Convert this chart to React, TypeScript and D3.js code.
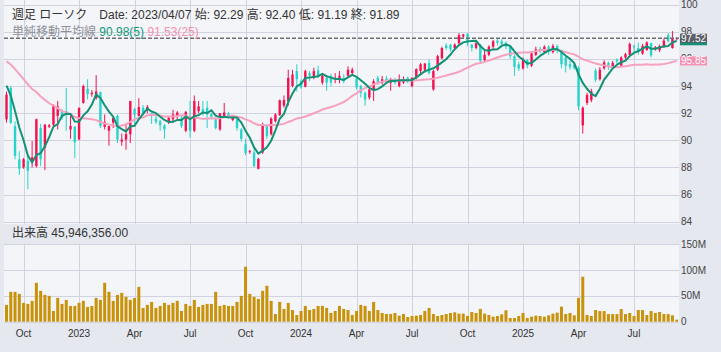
import { useEffect, useRef } from 'react';
import * as d3 from 'd3';

// weekly bars, each dated by its Friday
const firstWeek = new Date(2022, 8, 9);
const afterLastWeek = new Date(2025, 8, 13);

const opens = [
  91.54, 93.85, 91.05, 88.6, 88.0, 88.5, 88.5, 88.1, 90.9, 89.45,
  91.0, 91.15, 91.8, 92.15, 92.15, 90.8, 91.0, 90.07, 92.75, 93.8,
  93.4, 93.1, 93.55, 91.0, 90.7, 91.3, 91.8, 89.9, 90.05, 90.45,
  92.29, 91.8, 92.4, 92.3, 91.95, 91.6, 91.4, 91.1, 91.4, 91.55,
  91.8, 91.65, 90.7, 91.65, 90.7, 92.15, 92.3, 92.4, 91.95, 91.65,
  90.8, 91.8, 92.0, 91.5, 91.55, 90.8, 89.7, 89.15, 89.1, 87.9,
  89.1, 91.1, 90.45, 91.4, 91.85, 92.55, 92.9, 94.0, 95.1, 94.35,
  93.95, 94.95, 94.6, 95.15, 94.25, 94.6, 94.75, 94.55, 94.5, 94.6,
  94.75, 94.95, 94.55, 94.0, 93.5, 93.15, 93.75, 94.6, 94.25, 94.55,
  94.25, 94.5, 94.0, 94.25, 94.6, 94.0, 94.6, 95.1, 95.2, 95.7,
  93.75, 95.2, 96.05, 97.0, 97.05, 96.8, 97.15, 97.65, 97.85, 97.05,
  96.8, 97.0, 95.9, 96.3, 96.9, 97.35, 97.3, 97.15, 96.9, 96.2,
  95.6, 95.3, 95.9, 95.5, 96.3, 96.75, 96.5, 96.9, 96.5, 96.95,
  96.6, 96.1, 95.6, 95.55, 95.35, 91.1, 92.75, 92.95, 95.15, 94.5,
  95.3, 95.7, 95.35, 95.95, 95.5, 96.1, 96.3, 96.95, 96.8, 96.4,
  96.65, 97.15, 96.7, 96.65, 96.9, 97.75, 96.8, 97.45,
];

const highs = [
  93.6, 94.0, 91.4, 89.2, 88.7, 88.85, 89.95, 91.6, 91.2, 91.2,
  91.2, 92.65, 92.9, 92.3, 93.85, 91.8, 91.05, 92.4, 94.1, 94.5,
  93.7, 94.8, 93.6, 91.9, 91.05, 91.8, 91.9, 90.5, 91.15, 92.9,
  92.4, 93.1, 92.6, 92.6, 92.0, 91.8, 91.5, 91.2, 91.8, 92.25,
  92.15, 91.8, 92.15, 92.9, 93.3, 92.9, 92.9, 92.9, 92.0, 91.7,
  92.0, 92.75, 92.1, 91.8, 91.6, 90.9, 90.1, 89.3, 89.35, 88.7,
  91.3, 91.2, 91.7, 92.0, 93.0, 93.3, 95.2, 95.2, 95.6, 94.5,
  95.2, 95.1, 95.35, 95.5, 94.85, 94.7, 94.9, 94.95, 95.1, 94.85,
  95.45, 95.35, 94.6, 94.1, 93.6, 93.85, 94.5, 94.75, 94.75, 94.75,
  94.6, 94.6, 94.85, 94.7, 94.7, 94.65, 95.3, 95.7, 95.7, 95.95,
  95.2, 96.3, 96.9, 97.15, 97.1, 97.15, 97.9, 97.85, 97.9, 97.1,
  97.3, 97.1, 96.6, 97.0, 97.4, 97.5, 97.45, 97.3, 97.0, 96.3,
  95.8, 96.1, 96.0, 96.5, 96.9, 96.9, 97.0, 97.0, 97.1, 97.05,
  96.7, 96.2, 95.9, 95.7, 95.45, 92.5, 93.5, 93.8, 95.3, 95.4,
  95.9, 95.8, 95.85, 96.05, 96.2, 96.45, 97.2, 97.05, 97.2, 97.1,
  97.3, 97.2, 96.95, 97.05, 97.5, 97.9, 98.05, 97.6,
];

const lows = [
  91.3, 91.2, 88.6, 87.45, 87.9, 86.4, 88.0, 88.0, 88.1, 87.8,
  90.9, 90.9, 90.8, 91.5, 90.7, 90.1, 88.7, 90.0, 92.7, 93.0,
  93.2, 93.0, 90.9, 90.8, 89.6, 90.9, 89.8, 89.6, 89.3, 89.8,
  91.19, 91.75, 91.85, 92.0, 91.2, 91.2, 90.7, 90.1, 91.2, 91.3,
  91.55, 90.9, 90.6, 90.2, 90.6, 92.0, 91.8, 90.9, 91.55, 90.8,
  90.7, 91.7, 91.6, 91.4, 90.7, 89.9, 88.9, 89.0, 88.0, 87.85,
  89.0, 90.1, 90.35, 91.3, 91.8, 92.4, 92.55, 93.9, 93.6, 93.8,
  93.9, 94.35, 94.5, 94.6, 94.1, 93.65, 94.0, 94.2, 94.2, 94.2,
  94.7, 94.8, 93.75, 93.15, 92.55, 93.0, 92.9, 94.1, 94.1, 94.2,
  93.65, 94.1, 93.9, 94.15, 94.2, 93.9, 94.5, 94.9, 95.0, 94.85,
  93.65, 95.1, 95.95, 96.65, 96.55, 96.7, 97.05, 97.55, 96.95, 96.55,
  96.7, 95.65, 95.8, 96.2, 96.7, 97.0, 96.9, 96.7, 96.0, 94.75,
  95.1, 95.2, 95.3, 95.4, 96.2, 96.4, 96.4, 96.3, 96.4, 96.4,
  95.3, 95.0, 95.2, 95.2, 92.2, 90.5, 92.6, 92.8, 94.3, 94.4,
  95.2, 95.2, 95.3, 95.5, 95.4, 96.0, 96.2, 96.5, 96.3, 96.3,
  96.6, 96.1, 96.6, 96.5, 96.8, 97.2, 96.75, 97.4,
];

const closes = [
  93.37, 91.3, 88.85, 87.9, 88.6, 87.75, 88.75, 91.55, 88.6, 91.15,
  91.1, 92.6, 92.5, 91.65, 91.9, 91.05, 89.85, 92.4, 94.0, 93.4,
  93.5, 93.6, 91.05, 91.35, 91.05, 91.65, 90.05, 90.05, 90.45, 92.9,
  91.89, 92.45, 92.0, 92.45, 91.8, 91.35, 91.1, 90.8, 91.65, 91.9,
  92.05, 91.05, 92.1, 90.7, 92.9, 92.5, 92.05, 91.9, 91.7, 90.9,
  92.0, 92.05, 91.8, 91.65, 90.9, 90.1, 89.07, 89.2, 88.1, 88.63,
  91.2, 90.3, 91.6, 91.9, 92.95, 92.97, 94.6, 94.85, 94.5, 93.9,
  95.1, 94.75, 95.1, 94.75, 94.75, 94.25, 94.25, 94.6, 94.75, 94.35,
  95.2, 95.2, 93.9, 93.5, 93.0, 93.75, 94.35, 94.25, 94.5, 94.35,
  94.5, 94.25, 94.5, 94.5, 94.35, 94.6, 95.25, 95.6, 95.65, 94.95,
  95.1, 96.2, 96.8, 96.8, 96.7, 97.05, 97.75, 97.8, 97.15, 96.8,
  97.15, 95.85, 96.3, 96.9, 97.3, 97.2, 97.1, 96.9, 96.2, 95.4,
  95.3, 95.9, 95.5, 96.4, 96.7, 96.6, 96.9, 96.5, 96.95, 96.6,
  95.6, 95.5, 95.4, 95.33, 92.5, 92.4, 93.35, 93.6, 94.45, 95.2,
  95.75, 95.4, 95.7, 95.8, 96.1, 96.35, 97.1, 96.85, 96.5, 96.95,
  97.2, 96.25, 96.85, 96.95, 97.35, 97.3, 97.55, 97.52,
];

// weekly volume, millions of shares
const volumes = [
  32.5, 57.8, 57.8, 53.9, 36.4, 34.4, 40.3, 75.3, 59.7, 51.9,
  50, 20.8, 46.1, 34.4, 42.2, 30.5, 30.5, 36.4, 40.3, 28.6,
  30.5, 46.1, 42.2, 75.3, 57.8, 40.3, 51.9, 55.8, 48.1, 42.2,
  45.9, 67.5, 26.6, 32.5, 38.3, 26.6, 30.5, 36.4, 32.5, 36.4,
  40.3, 20.8, 34.4, 30.5, 42.2, 28.6, 32.5, 34.4, 34.4, 57.8,
  30.5, 32.5, 30.5, 30.5, 38.3, 50, 106.5, 53.9, 48.1, 44.2,
  59.7, 69.5, 40.3, 14.9, 38.3, 24.7, 36.4, 22.7, 13, 20.8,
  30.5, 22.7, 24.7, 30.5, 30.5, 26.6, 16.9, 20.8, 30.5, 24.7,
  22.7, 13, 20.8, 32.5, 30.5, 20.8, 38.3, 22.7, 16.9, 14.9,
  14.9, 16.9, 11.7, 14.9, 9.1, 11, 11.7, 13, 20.8, 26.6,
  14.9, 11, 13, 14.9, 16.9, 18.2, 15.6, 15.6, 11, 18.8,
  16.9, 24.7, 15.6, 13, 9.7, 11, 14.3, 22.1, 7.1, 7.1,
  11, 16.9, 7.1, 9.7, 11.7, 11, 9.7, 12.3, 15.6, 17.5,
  29.2, 14.9, 16.9, 12.3, 46.1, 87, 13, 11, 22.7, 20.6,
  20.6, 14.8, 14.8, 14.8, 24.5, 14.8, 16.8, 11, 22.6, 22.6,
  12.9, 20.6, 16.8, 18.7, 14.8, 14.8, 12.3, 3.9,
];

// closes before the first visible week (only feed the averages' start)
const earlierCloses = [
  97.0, 97.4, 97.3, 97.6, 97.2, 97.5, 97.1, 96.9, 97.3, 97.4, 97.0, 97.1,
  97.2, 94.2, 94.6, 94.8, 94.5, 94.3, 94.4, 94.4, 95.0, 94.5, 94.0, 93.3,
];

const priceTicks = [84, 86, 88, 90, 92, 94, 96, 98, 100];
const volumeTicks = [0, 50, 100, 150];
const quarterWeeks = [
  '2022/10/07', '2023/01/06', '2023/04/07', '2023/07/07', '2023/10/06', '2024/01/05',
  '2024/04/05', '2024/07/05', '2024/10/04', '2025/01/03', '2025/04/04', '2025/07/04',
];
const quarterLabels = ['Oct', '2023', 'Apr', 'Jul', 'Oct', '2024', 'Apr', 'Jul', 'Oct', '2025', 'Apr', 'Jul'];

const FONT = "'Liberation Sans', Arial, 'Noto Sans CJK JP', sans-serif";

export default function App() {
  const svgRef = useRef<SVGSVGElement>(null);

  useEffect(() => {
    if (!svgRef.current) return;
    const svg = d3.select(svgRef.current);
    svg.selectAll('*').remove();

    const fmtDay = d3.timeFormat('%Y/%m/%d');
    const weeks = d3.timeFriday.range(firstWeek, afterLastWeek).map(fmtDay);
    const bars = weeks.map((w, i) => ({
      week: w, open: opens[i], high: highs[i], low: lows[i], close: closes[i], volume: volumes[i],
    }));

    const allCloses = earlierCloses.concat(closes);
    const offset = earlierCloses.length;
    const movingAvg = (period: number) =>
      closes.map((_, i) => d3.mean(allCloses.slice(i + offset - period + 1, i + offset + 1)) as number);
    const ma5 = movingAvg(5);
    const ma25 = movingAvg(25);

    const plotLeft = 4;
    const plotRight = 679;
    const priceTop = 0;
    const priceBottom = 224;
    const volTop = 244;
    const volBottom = 322;

    const x = d3.scalePoint<string>().domain(weeks).range([6.5, 676.7]);
    const y = d3.scaleLinear().domain([84, 100]).range([221.7, 4.6]);
    const yv = d3.scaleLinear().domain([0, 150]).range([321.7, 244.2]);

    const upColor = '#f2124f';
    const downColor = '#26d4cb';
    const gridColor = '#d2d3e0';

    svg.append('rect').attr('width', 721).attr('height', 352).attr('fill', '#e5e8ef');
    svg.append('rect').attr('x', plotLeft).attr('y', priceTop)
      .attr('width', plotRight - plotLeft).attr('height', priceBottom - priceTop).attr('fill', '#f4f5f8');
    svg.append('rect').attr('x', plotLeft).attr('y', volTop)
      .attr('width', plotRight - plotLeft).attr('height', volBottom - volTop).attr('fill', '#f4f5f8');

    // grid
    const grid = svg.append('g').attr('stroke', gridColor).attr('stroke-width', 1);
    grid.selectAll('.hp').data(priceTicks).enter().append('line')
      .attr('x1', plotLeft).attr('x2', plotRight)
      .attr('y1', (d) => Math.round(y(d)) + 0.5).attr('y2', (d) => Math.round(y(d)) + 0.5);
    grid.selectAll('.hv').data(volumeTicks).enter().append('line')
      .attr('x1', plotLeft).attr('x2', plotRight)
      .attr('y1', (d) => Math.round(yv(d)) + 0.5).attr('y2', (d) => Math.round(yv(d)) + 0.5);
    grid.selectAll('.vp').data(quarterWeeks).enter().append('line')
      .attr('x1', (d) => Math.round(x(d)!) + 0.5).attr('x2', (d) => Math.round(x(d)!) + 0.5)
      .attr('y1', priceTop).attr('y2', priceBottom);
    grid.selectAll('.vv').data(quarterWeeks).enter().append('line')
      .attr('x1', (d) => Math.round(x(d)!) + 0.5).attr('x2', (d) => Math.round(x(d)!) + 0.5)
      .attr('y1', volTop).attr('y2', volBottom);

    // candles
    const bodyW = 2.4;
    const candles = svg.append('g');
    candles.selectAll('.wick').data(bars).enter().append('line')
      .attr('x1', (d) => x(d.week)!).attr('x2', (d) => x(d.week)!)
      .attr('y1', (d) => y(d.high)).attr('y2', (d) => y(d.low))
      .attr('stroke', (d) => (d.close >= d.open ? upColor : downColor)).attr('stroke-width', 1);
    candles.selectAll('.body').data(bars).enter().append('rect')
      .attr('x', (d) => x(d.week)! - bodyW / 2)
      .attr('y', (d) => y(Math.max(d.open, d.close)))
      .attr('width', bodyW)
      .attr('height', (d) => Math.max(1, Math.abs(y(d.open) - y(d.close))))
      .attr('fill', (d) => (d.close >= d.open ? upColor : downColor));

    // moving averages
    const line = d3.line<number>().x((_, i) => x(weeks[i])!).y((d) => y(d));
    svg.append('path').datum(ma25).attr('d', line).attr('fill', 'none')
      .attr('stroke', '#f7a1bf').attr('stroke-width', 2);
    svg.append('path').datum(ma5).attr('d', line).attr('fill', 'none')
      .attr('stroke', '#139176').attr('stroke-width', 2);

    // volume
    const volW = 3;
    svg.append('g').selectAll('rect').data(bars).enter().append('rect')
      .attr('x', (d) => x(d.week)! - volW / 2)
      .attr('y', (d) => yv(d.volume))
      .attr('width', volW)
      .attr('height', (d) => yv(0) - yv(d.volume))
      .attr('fill', '#c8920a');

    // last price line
    const last = closes[closes.length - 1];
    svg.append('line')
      .attr('x1', plotLeft).attr('x2', plotRight)
      .attr('y1', y(last)).attr('y2', y(last))
      .attr('stroke', '#6e6e72').attr('stroke-width', 1.5).attr('stroke-dasharray', '4 2');

    // right axes
    const axisText = svg.append('g').attr('font-family', FONT).attr('font-size', 10).attr('fill', '#444');
    axisText.selectAll('.pt').data(priceTicks).enter().append('text')
      .attr('x', 681).attr('y', (d) => y(d)).attr('dominant-baseline', 'central').text((d) => d);
    axisText.selectAll('.vt').data(volumeTicks).enter().append('text')
      .attr('x', 681).attr('y', (d) => yv(d)).attr('dominant-baseline', 'central')
      .text((d) => (d === 0 ? '0' : `${d}M`));
    axisText.selectAll('.xt').data(quarterWeeks).enter().append('text')
      .attr('x', (d) => x(d)!).attr('y', 333).attr('text-anchor', 'middle')
      .attr('dominant-baseline', 'central').attr('fill', '#333')
      .text((_, i) => quarterLabels[i]);

    // value tags on the price axis
    const fmt = d3.format('.2f');
    const tag = (value: number, color: string, h: number, showText: boolean) => {
      const g = svg.append('g');
      g.append('rect').attr('x', 680).attr('y', y(value) - h / 2).attr('width', 27).attr('height', h).attr('fill', color);
      if (showText) {
        g.append('text').attr('x', 681).attr('y', y(value)).attr('dominant-baseline', 'central')
          .attr('font-family', FONT).attr('font-size', 10).attr('fill', '#fff').text(fmt(value));
      }
    };
    tag(ma25[ma25.length - 1], '#f48fb1', 9, true);
    tag(ma5[ma5.length - 1], '#139176', 9, false);
    tag(last, '#5b5f67', 9, true);

    // headers
    const head = svg.append('g').attr('font-family', FONT).attr('font-size', 12);
    head.append('text').attr('x', 12).attr('y', 15).attr('dominant-baseline', 'central')
      .attr('fill', '#333').attr('xml:space', 'preserve')
      .text('週足 ローソク　Date: 2023/04/07 始: 92.29 高: 92.40 低: 91.19 終: 91.89');
    const maHead = head.append('text').attr('x', 12).attr('y', 32).attr('dominant-baseline', 'central');
    maHead.append('tspan').attr('fill', '#8c9099').text('単純移動平均線 ');
    maHead.append('tspan').attr('fill', '#109a78').text('90.98(5) ');
    maHead.append('tspan').attr('fill', '#f48fb1').text('91.53(25)');
    head.append('text').attr('x', 12).attr('y', 233).attr('dominant-baseline', 'central')
      .attr('fill', '#333').text('出来高 45,946,356.00');
  }, []);

  return (
    <svg
      ref={svgRef}
      width={721}
      height={352}
      style={{ position: 'absolute', left: 0, top: 0, display: 'block' }}
    />
  );
}
